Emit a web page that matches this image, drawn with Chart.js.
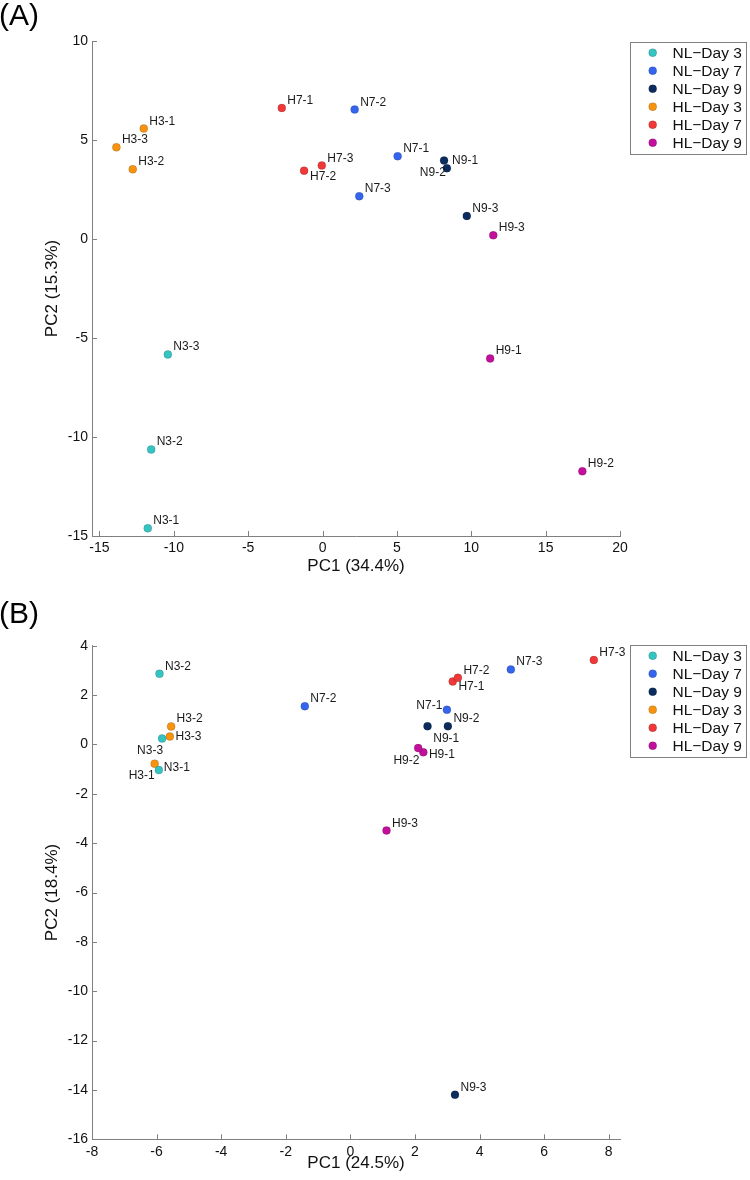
<!DOCTYPE html>
<html>
<head>
<meta charset="utf-8">
<script src="https://cdn.jsdelivr.net/npm/chart.js@4.4.1/dist/chart.umd.min.js"></script>
<style>
  html, body { margin: 0; padding: 0; background: #fff; }
  .panel { width: 750px; height: 590px; }
</style>
</head>
<body>
<div class="panel"><canvas id="chartA" width="750" height="590"></canvas></div>
<div class="panel"><canvas id="chartB" width="750" height="590"></canvas></div>
<script>
// Groups in legend order
const groups = ['NL\u2212Day 3', 'NL\u2212Day 7', 'NL\u2212Day 9', 'HL\u2212Day 3', 'HL\u2212Day 7', 'HL\u2212Day 9'];
const groupColors = ['#35c4c2', '#3565ee', '#0b2c5c', '#f7930f', '#f03838', '#c2109c'];

// Sample names per group (replicates 1..3)
const sampleIds = [
  ['N3-1', 'N3-2', 'N3-3'],
  ['N7-1', 'N7-2', 'N7-3'],
  ['N9-1', 'N9-2', 'N9-3'],
  ['H3-1', 'H3-2', 'H3-3'],
  ['H7-1', 'H7-2', 'H7-3'],
  ['H9-1', 'H9-2', 'H9-3']
];

// (A) PCA scores
const pc1A = [
  [-11.75, -11.52, -10.40],
  [5.05, 2.16, 2.47],
  [8.17, 8.36, 9.70],
  [-12.02, -12.76, -13.86],
  [-2.74, -1.24, -0.05],
  [11.27, 17.47, 11.48]
];
const pc2A = [
  [-14.61, -10.63, -5.83],
  [4.18, 6.54, 2.16],
  [3.96, 3.57, 1.16],
  [5.58, 3.52, 4.63],
  [6.62, 3.45, 3.71],
  [-6.03, -11.73, 0.19]
];

// (B) PCA scores
const pc1B = [
  [-5.93, -5.91, -5.83],
  [2.99, -1.41, 4.97],
  [2.39, 3.02, 3.24],
  [-6.06, -5.55, -5.59],
  [3.17, 3.33, 7.54],
  [2.26, 2.10, 1.12]
];
const pc2B = [
  [-1.04, 2.86, 0.24],
  [1.40, 1.55, 3.04],
  [0.74, 0.74, -14.19],
  [-0.78, 0.73, 0.32],
  [2.55, 2.70, 3.42],
  [-0.32, -0.15, -3.49]
];

// Tick values
const xTicksA = [-15, -10, -5, 0, 5, 10, 15, 20];
const yTicksA = [-15, -10, -5, 0, 5, 10];
const xTicksB = [-8, -6, -4, -2, 0, 2, 4, 6, 8];
const yTicksB = [-16, -14, -12, -10, -8, -6, -4, -2, 0, 2, 4];

// Label placement: [dx, dy, align] from the point centre; default is upper right
const defaultLabelPos = [5.5, -7.3, 'left'];
const labelPosA = {
  'N9-1': [8, 0, 'left'],
  'N9-2': [-1, 4.5, 'right'],
  'H7-2': [6, 5.5, 'left']
};
const labelPosB = {
  'N3-1': [5, -2, 'left'],
  'N3-3': [1, 12.6, 'right'],
  'H3-1': [0, 12, 'right'],
  'H3-3': [5.7, 0, 'left'],
  'H7-1': [5.7, 5.6, 'left'],
  'N7-1': [-4.6, -4.3, 'right'],
  'N9-1': [5.7, 12.4, 'left'],
  'H9-2': [1.3, 12.7, 'right'],
  'H9-1': [5.6, 2.3, 'left']
};

const FONT = '"Liberation Sans", Arial, Helvetica, sans-serif';
const AXIS_GRAY = '#808080';

// Sample name next to every point
const pointLabels = {
  id: 'pointLabels',
  afterDatasetsDraw(chart, args, opts) {
    const ctx = chart.ctx;
    ctx.save();
    ctx.font = '12px ' + FONT;
    ctx.fillStyle = '#1a1a1a';
    ctx.textBaseline = 'middle';
    chart.data.datasets.forEach((ds, di) => {
      chart.getDatasetMeta(di).data.forEach((pt, i) => {
        const name = ds.names[i];
        const pos = opts.positions[name] || defaultLabelPos;
        ctx.textAlign = pos[2];
        ctx.fillText(name, pt.x + pos[0], pt.y + pos[1]);
      });
    });
    ctx.restore();
  }
};

// Short tick marks pointing into the plot
const innerTicks = {
  id: 'innerTicks',
  beforeDatasetsDraw(chart) {
    const ctx = chart.ctx;
    const area = chart.chartArea;
    ctx.save();
    ctx.strokeStyle = AXIS_GRAY;
    ctx.lineWidth = 1;
    ctx.beginPath();
    chart.scales.x.ticks.forEach(t => {
      const px = Math.round(chart.scales.x.getPixelForValue(t.value)) + 0.5;
      ctx.moveTo(px, area.bottom);
      ctx.lineTo(px, area.bottom - 5);
    });
    chart.scales.y.ticks.forEach(t => {
      const py = Math.round(chart.scales.y.getPixelForValue(t.value)) + 0.5;
      ctx.moveTo(area.left, py);
      ctx.lineTo(area.left + 5, py);
    });
    ctx.stroke();
    ctx.restore();
  }
};

// Boxed legend in the top-right corner and the panel tag
const panelDecor = {
  id: 'panelDecor',
  afterDraw(chart, args, opts) {
    const ctx = chart.ctx;
    ctx.save();
    // panel tag
    ctx.font = '30px ' + FONT;
    ctx.fillStyle = '#000';
    ctx.textAlign = 'left';
    ctx.textBaseline = 'alphabetic';
    ctx.fillText(opts.tag, -1, opts.tagBaseline);

    // legend box
    const left = 630.5, width = 117, top = opts.legendTop, rowH = 18;
    const height = rowH * chart.data.datasets.length + 4;
    ctx.fillStyle = '#fff';
    ctx.fillRect(left, top, width, height);
    ctx.strokeStyle = AXIS_GRAY;
    ctx.lineWidth = 1;
    ctx.strokeRect(left, Math.round(top) + 0.5, width - 1, height);
    ctx.font = '15.5px ' + FONT;
    ctx.textBaseline = 'middle';
    chart.data.datasets.forEach((ds, i) => {
      const cy = top + 11 + i * rowH;
      ctx.beginPath();
      ctx.arc(652.7, cy, 4, 0, Math.PI * 2);
      ctx.fillStyle = ds.backgroundColor;
      ctx.fill();
      ctx.strokeStyle = 'rgba(0,0,0,0.25)';
      ctx.lineWidth = 0.6;
      ctx.stroke();
      ctx.fillStyle = '#111';
      ctx.fillText(ds.label, 672.5, cy + 1);
    });
    ctx.restore();
  }
};

function buildDatasets(pc1, pc2) {
  return groups.map((g, gi) => ({
    label: g,
    names: sampleIds[gi],
    data: pc1[gi].map((x, i) => ({ x: x, y: pc2[gi][i] })),
    backgroundColor: groupColors[gi],
    borderColor: 'rgba(0,0,0,0.25)',
    borderWidth: 0.6,
    pointRadius: 4,
    pointHoverRadius: 4
  }));
}

function makePanel(canvasId, p) {
  new Chart(document.getElementById(canvasId), {
    type: 'scatter',
    data: { datasets: buildDatasets(p.pc1, p.pc2) },
    options: {
      responsive: false,
      animation: false,
      layout: { padding: { top: p.padTop, right: 130, left: 0, bottom: 0 } },
      plugins: {
        legend: { display: false },
        tooltip: { enabled: false },
        pointLabels: { positions: p.labelPos },
        panelDecor: { tag: p.tag, tagBaseline: p.tagBaseline, legendTop: p.legendTop }
      },
      scales: {
        x: {
          type: 'linear',
          min: p.xMin,
          max: p.xMax,
          afterBuildTicks: s => { s.ticks = p.xTicks.map(v => ({ value: v })); },
          afterFit: s => { s.height = p.xHeight; },
          grid: { display: false, drawTicks: false },
          border: { display: true, color: AXIS_GRAY, width: 1 },
          ticks: { color: '#111', padding: 4, font: { size: 14, family: FONT }, maxRotation: 0 },
          title: {
            display: true, text: p.xTitle, color: '#111',
            font: { size: 17, family: FONT }, padding: { top: 0, bottom: p.xTitlePad }
          }
        },
        y: {
          type: 'linear',
          min: p.yMin,
          max: p.yMax,
          afterBuildTicks: s => { s.ticks = p.yTicks.map(v => ({ value: v })); },
          afterFit: s => { s.width = 92; },
          grid: { display: false, drawTicks: false },
          border: { display: true, color: AXIS_GRAY, width: 1 },
          ticks: { color: '#111', padding: 4, font: { size: 14, family: FONT } },
          title: {
            display: true, text: p.yTitle, color: '#111',
            font: { size: 17, family: FONT }, padding: { top: 41.8, bottom: 0 }
          }
        }
      }
    },
    plugins: [innerTicks, pointLabels, panelDecor]
  });
}

makePanel('chartA', {
  pc1: pc1A, pc2: pc2A, labelPos: labelPosA,
  xMin: -15.5, xMax: 20, yMin: -15, yMax: 10,
  xTicks: xTicksA, yTicks: yTicksA,
  xTitle: 'PC1 (34.4%)', yTitle: 'PC2 (15.3%)',
  padTop: 41, xHeight: 54, xTitlePad: 13.8,
  tag: '(A)', tagBaseline: 25, legendTop: 41.7
});

makePanel('chartB', {
  pc1: pc1B, pc2: pc2B, labelPos: labelPosB,
  xMin: -8, xMax: 8.35, yMin: -16, yMax: 4,
  xTicks: xTicksB, yTicks: yTicksB,
  xTitle: 'PC1 (24.5%)', yTitle: 'PC2 (18.4%)',
  padTop: 55.7, xHeight: 40.7, xTitlePad: 6.8,
  tag: '(B)', tagBaseline: 33, legendTop: 54.7
});
</script>
</body>
</html>
